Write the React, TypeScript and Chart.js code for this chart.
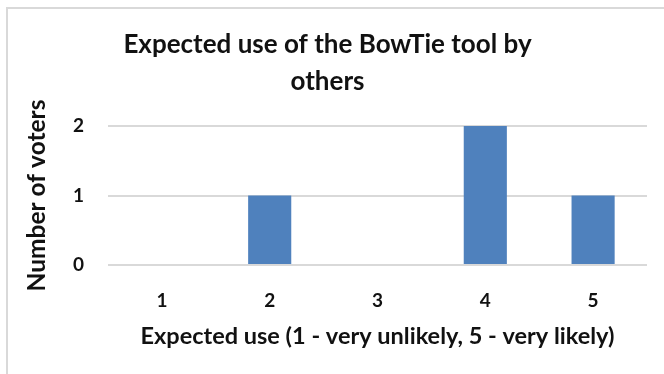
import React, { useEffect, useRef } from "react";
import { Chart, registerables } from "chart.js";

Chart.register(...registerables);

const categories = ["1", "2", "3", "4", "5"];
const voters = [0, 1, 0, 2, 1];
const yTicks = [0, 1, 2];
const titleLines = ["Expected use of the BowTie tool by", "others"];
const xTitle = "Expected use (1 - very unlikely, 5 - very likely)";
const yTitle = "Number of voters";

const FONT = "Lato, 'Open Sans', sans-serif";
const TEXT = "#111111";
const GRID = "#d9d9d9";
const BAR = "#4f81bd";

export default function App() {
  const canvasRef = useRef<HTMLCanvasElement | null>(null);

  useEffect(() => {
    const canvas = canvasRef.current;
    if (!canvas) return;
    const chart = new Chart(canvas, {
      type: "bar",
      data: {
        labels: categories,
        datasets: [
          {
            data: voters,
            backgroundColor: BAR,
            borderWidth: 0,
            barPercentage: 0.4,
            categoryPercentage: 1,
          },
        ],
      },
      options: {
        responsive: false,
        animation: false,
        devicePixelRatio: 1,
        layout: { padding: { left: 0, right: 25, top: 0, bottom: 0 } },
        plugins: {
          legend: { display: false },
          tooltip: { enabled: false },
          title: {
            display: true,
            text: titleLines,
            color: TEXT,
            font: { family: FONT, size: 26, weight: "bold", lineHeight: 37 / 26 },
            padding: { top: 17, bottom: 26 },
          },
        },
        scales: {
          x: {
            grid: { display: false, drawTicks: false },
            border: { display: false },
            ticks: {
              color: TEXT,
              font: { family: FONT, size: 19, weight: "bold" },
              padding: 24,
            },
            title: {
              display: true,
              text: xTitle,
              color: TEXT,
              font: { family: FONT, size: 23.5, weight: "bold", lineHeight: 1.2 },
              padding: { top: 0, bottom: 28 },
            },
            afterFit: (scale: any) => {
              scale.height = 370 - 256;
            },
          },
          y: {
            min: 0,
            max: 2,
            afterBuildTicks: (scale: any) => {
              scale.ticks = yTicks.map((v) => ({ value: v }));
            },
            grid: { color: GRID, lineWidth: 2, drawTicks: false },
            border: { display: false },
            ticks: {
              color: TEXT,
              font: { family: FONT, size: 19, weight: "bold" },
              padding: 24,
            },
            title: {
              display: true,
              text: yTitle,
              color: TEXT,
              font: { family: FONT, size: 24.5, weight: "bold", lineHeight: 1.2 },
              padding: { top: 14, bottom: 0 },
            },
            afterFit: (scale: any) => {
              scale.width = 100;
            },
          },
        },
      },
    });
    return () => chart.destroy();
  }, []);

  return (
    <div
      style={{
        position: "fixed",
        left: 0,
        top: 0,
        width: 664,
        height: 374,
        overflow: "hidden",
        background: "#ffffff",
      }}
    >
      <div
        style={{
          position: "absolute",
          left: 6,
          top: 7,
          width: 664,
          height: 370,
          border: `2px solid ${GRID}`,
          background: "#ffffff",
        }}
      >
        <canvas ref={canvasRef} width={664} height={370} style={{ display: "block" }} />
      </div>
    </div>
  );
}
